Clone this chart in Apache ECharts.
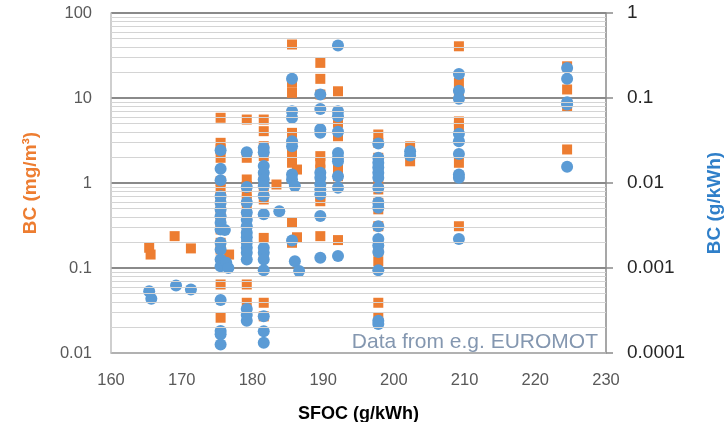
<!DOCTYPE html>
<html>
<head>
<meta charset="utf-8">
<script src="https://cdn.jsdelivr.net/npm/echarts@6/dist/echarts.min.js"></script>
<style>
  html, body { margin: 0; padding: 0; background: #fff; }
  #chart { width: 727px; height: 422px; }
</style>
</head>
<body>
<div id="chart"></div>
<script>
/* BC vs SFOC scatter — two log axes (mg/m3 left, g/kWh right) */

// tick labels
const X_TICKS = [160, 170, 180, 190, 200, 210, 220, 230];
const LEFT_TICKS = [0.01, 0.1, 1, 10, 100];
const RIGHT_TICKS = [0.0001, 0.001, 0.01, 0.1, 1];
// light horizontal lines between the decades (left axis values)
const MINOR_LINES = [
  0.02, 0.03, 0.04, 0.05, 0.06, 0.07, 0.08, 0.09,
  0.2, 0.3, 0.4, 0.5, 0.6, 0.7, 0.8, 0.9,
  2, 3, 4, 5, 6, 7, 8, 9,
  20, 30, 40, 50, 60, 70, 80, 90
];

// BC in mg/m3 — [SFOC, BC]
const BC_MG = [
  [165.4, 0.173], [165.6, 0.144],
  [169.0, 0.237],
  [171.3, 0.170],
  [175.5, 5.85], [175.5, 2.97], [175.5, 2.5], [175.5, 1.98], [175.5, 1.05], [175.5, 0.84], [175.5, 0.70],
  [175.5, 0.49], [175.5, 0.34], [175.5, 0.284], [175.5, 0.198], [175.5, 0.165], [175.5, 0.064], [175.5, 0.026],
  [176.7, 0.144],
  [179.2, 5.58], [179.2, 1.98], [179.2, 1.1], [179.2, 0.92], [179.2, 0.77], [179.2, 0.64], [179.2, 0.53],
  [179.2, 0.41], [179.2, 0.28], [179.2, 0.24], [179.2, 0.198], [179.2, 0.158], [179.2, 0.064], [179.2, 0.039],
  [181.6, 5.58], [181.6, 4.07], [181.6, 2.71], [181.6, 2.07], [181.6, 1.2], [181.6, 0.84], [181.6, 0.64],
  [181.6, 0.226], [181.6, 0.138], [181.6, 0.039], [181.6, 0.027],
  [183.4, 0.96],
  [185.6, 42.6], [185.6, 15.1], [185.6, 11.5], [185.6, 3.89], [185.6, 2.97], [185.6, 2.26], [185.6, 1.73],
  [185.6, 1.2], [185.6, 0.34], [185.6, 0.198], [186.3, 1.44], [186.3, 0.23],
  [189.6, 25.9], [189.6, 16.8], [189.6, 11], [189.6, 2.07], [189.6, 1.73], [189.6, 1.44], [189.6, 1.0],
  [189.6, 0.70], [189.6, 0.61], [189.6, 0.237],
  [192.1, 12], [192.1, 6.7], [192.1, 5.1], [192.1, 3.55], [192.1, 2.07], [192.1, 1.44], [192.1, 1.2], [192.1, 0.213],
  [197.8, 3.72], [197.8, 2.97], [197.8, 1.98], [197.8, 1.44], [197.8, 1.1], [197.8, 0.84], [197.8, 0.585],
  [197.8, 0.49], [197.8, 0.31], [197.8, 0.198], [197.8, 0.158], [197.8, 0.12], [197.8, 0.039], [197.8, 0.026],
  [202.3, 2.7], [202.3, 2.2], [202.3, 1.8],
  [209.2, 40.6], [209.2, 15.1], [209.2, 11.5], [209.2, 5.3], [209.2, 4.65], [209.2, 1.73], [209.2, 1.2], [209.2, 0.31],
  [224.5, 23.6], [224.5, 12.6], [224.5, 8.0], [224.5, 2.48]
];

// BC in g/kWh — [SFOC, BC]
const BC_G = [
  [165.4, 0.000533], [165.7, 0.000434],
  [169.2, 0.000622],
  [171.3, 0.000558],
  [175.5, 0.0243], [175.5, 0.0147], [175.5, 0.0108], [175.5, 0.0070], [175.5, 0.00585], [175.5, 0.00488],
  [175.5, 0.00407], [175.5, 0.0034], [175.5, 0.00284], [175.5, 0.00198], [175.5, 0.00165], [175.5, 0.00126],
  [175.5, 0.00105], [175.5, 0.000419], [175.5, 0.000181], [175.5, 0.000166], [175.5, 0.000126],
  [176.1, 0.0028], [176.3, 0.00115], [176.6, 0.001],
  [179.2, 0.023], [179.2, 0.009], [179.2, 0.0059], [179.2, 0.0045], [179.2, 0.0037], [179.2, 0.0031],
  [179.2, 0.0026], [179.2, 0.0023], [179.2, 0.002], [179.2, 0.00173], [179.2, 0.00151], [179.2, 0.00126],
  [179.2, 0.00033], [179.2, 0.00028], [179.2, 0.00024],
  [181.6, 0.0259], [181.6, 0.023], [181.6, 0.0158], [181.6, 0.0132], [181.6, 0.011], [181.6, 0.0092],
  [181.6, 0.0071], [181.6, 0.0043], [181.6, 0.00173], [181.6, 0.00151], [181.6, 0.00126], [181.6, 0.00094],
  [181.6, 0.00027], [181.6, 0.00018], [181.6, 0.000132],
  [183.8, 0.00466],
  [185.6, 0.168], [185.6, 0.070], [185.6, 0.0585], [185.6, 0.031], [185.6, 0.027], [185.6, 0.0126],
  [185.6, 0.011], [186.0, 0.0092], [185.6, 0.0021], [186.0, 0.0012], [186.6, 0.00092],
  [189.6, 0.110], [189.6, 0.074], [189.6, 0.043], [189.6, 0.039], [189.6, 0.0132], [189.6, 0.0115],
  [189.6, 0.0096], [189.6, 0.0084], [189.6, 0.0073], [189.6, 0.0041], [189.6, 0.00132],
  [192.1, 0.415], [192.1, 0.070], [192.1, 0.061], [192.1, 0.040], [192.1, 0.0226], [192.1, 0.0198],
  [192.1, 0.018], [192.1, 0.012], [192.1, 0.0088], [192.1, 0.00138],
  [197.8, 0.0291], [197.8, 0.0198], [197.8, 0.0173], [197.8, 0.0152], [197.8, 0.0132], [197.8, 0.0115],
  [197.8, 0.0088], [197.8, 0.0059], [197.8, 0.0051], [197.8, 0.0031], [197.8, 0.0022], [197.8, 0.00184],
  [197.8, 0.00154], [197.8, 0.00094], [197.8, 0.00024], [197.8, 0.00022],
  [202.3, 0.0237], [202.3, 0.021],
  [209.2, 0.192], [209.2, 0.122], [209.2, 0.098], [209.2, 0.038], [209.2, 0.031], [209.2, 0.022],
  [209.2, 0.0126], [209.2, 0.0115], [209.2, 0.0022],
  [224.5, 0.225], [224.5, 0.168], [224.5, 0.089], [224.5, 0.084], [224.5, 0.0155]
];

const ORANGE = '#ED7D31';
const BLUE = '#5B9BD5';
const FONT = 'Liberation Sans';

const chart = echarts.init(document.getElementById('chart'), null, { renderer: 'canvas' });

function fmt(v) {
  // keep plain decimals like 0.0001
  return String(Number(v.toPrecision(6)));
}

const option = {
  animation: false,
  textStyle: { fontFamily: FONT },
  grid: { left: 111, right: 121, top: 13, bottom: 69, containLabel: false, outerBoundsMode: 'none' },
  xAxis: {
    type: 'value',
    min: X_TICKS[0],
    max: X_TICKS[X_TICKS.length - 1],
    interval: 10,
    name: 'SFOC (g/kWh)',
    nameLocation: 'middle',
    nameGap: 52,
    nameTextStyle: { color: '#000', fontWeight: 'bold', fontSize: 18, fontFamily: FONT },
    axisLine: { lineStyle: { color: '#bfbfbf', width: 1.5 } },
    axisTick: { show: false },
    axisLabel: { color: '#595959', fontSize: 16.5, margin: 19 },
    splitLine: { show: false }
  },
  yAxis: [
    {
      type: 'log',
      logBase: 10,
      min: LEFT_TICKS[0],
      max: LEFT_TICKS[LEFT_TICKS.length - 1],
      position: 'left',
      name: 'BC (mg/m³)',
      nameLocation: 'middle',
      nameGap: 71,
      nameRotate: 90,
      nameTextStyle: { color: ORANGE, fontWeight: 'bold', fontSize: 19, fontFamily: FONT },
      axisLine: { show: true, lineStyle: { color: '#bfbfbf', width: 1.5 } },
      axisTick: { show: false },
      axisLabel: { color: '#595959', fontSize: 16.5, margin: 19, formatter: fmt },
      splitLine: { show: true, lineStyle: { color: '#8a8a8a', width: 2 } }
    },
    {
      type: 'log',
      logBase: 10,
      min: RIGHT_TICKS[0],
      max: RIGHT_TICKS[RIGHT_TICKS.length - 1],
      position: 'right',
      name: 'BC (g/kWh)',
      nameLocation: 'middle',
      nameGap: 99,
      nameRotate: 90,
      nameTextStyle: {
        color: '#2F7FC9', fontWeight: 'bold', fontSize: 19, fontFamily: FONT,
        padding: [0, 40, 0, 0]
      },
      axisLine: { show: true, lineStyle: { color: '#8a8a8a', width: 1.5 } },
      axisTick: { show: true, length: 7, lineStyle: { color: '#8a8a8a', width: 1.5 } },
      axisLabel: { color: '#262626', fontSize: 19, margin: 21, formatter: fmt },
      splitLine: { show: false }
    }
  ],
  series: [
    {
      name: 'minor',
      type: 'scatter',
      yAxisIndex: 0,
      data: [],
      silent: true,
      z: 1,
      markLine: {
        silent: true,
        symbol: ['none', 'none'],
        label: { show: false },
        lineStyle: { color: '#d4d4d4', width: 1.2, type: 'solid' },
        data: MINOR_LINES.map(v => ({ yAxis: v }))
      }
    },
    {
      name: 'BC (mg/m3)',
      type: 'scatter',
      yAxisIndex: 0,
      symbol: 'rect',
      symbolSize: 10,
      itemStyle: { color: ORANGE, opacity: 1 },
      z: 3,
      data: BC_MG
    },
    {
      name: 'BC (g/kWh)',
      type: 'scatter',
      yAxisIndex: 1,
      symbol: 'circle',
      symbolSize: 12,
      itemStyle: { color: BLUE, opacity: 1 },
      z: 4,
      data: BC_G
    }
  ],
  graphic: [
    {
      type: 'text',
      right: 129,
      top: 332,
      z: 10,
      style: {
        text: 'Data from e.g. EUROMOT',
        fill: '#8497B0',
        fontSize: 21,
        fontFamily: FONT
      }
    }
  ]
};

chart.setOption(option);
</script>
</body>
</html>
